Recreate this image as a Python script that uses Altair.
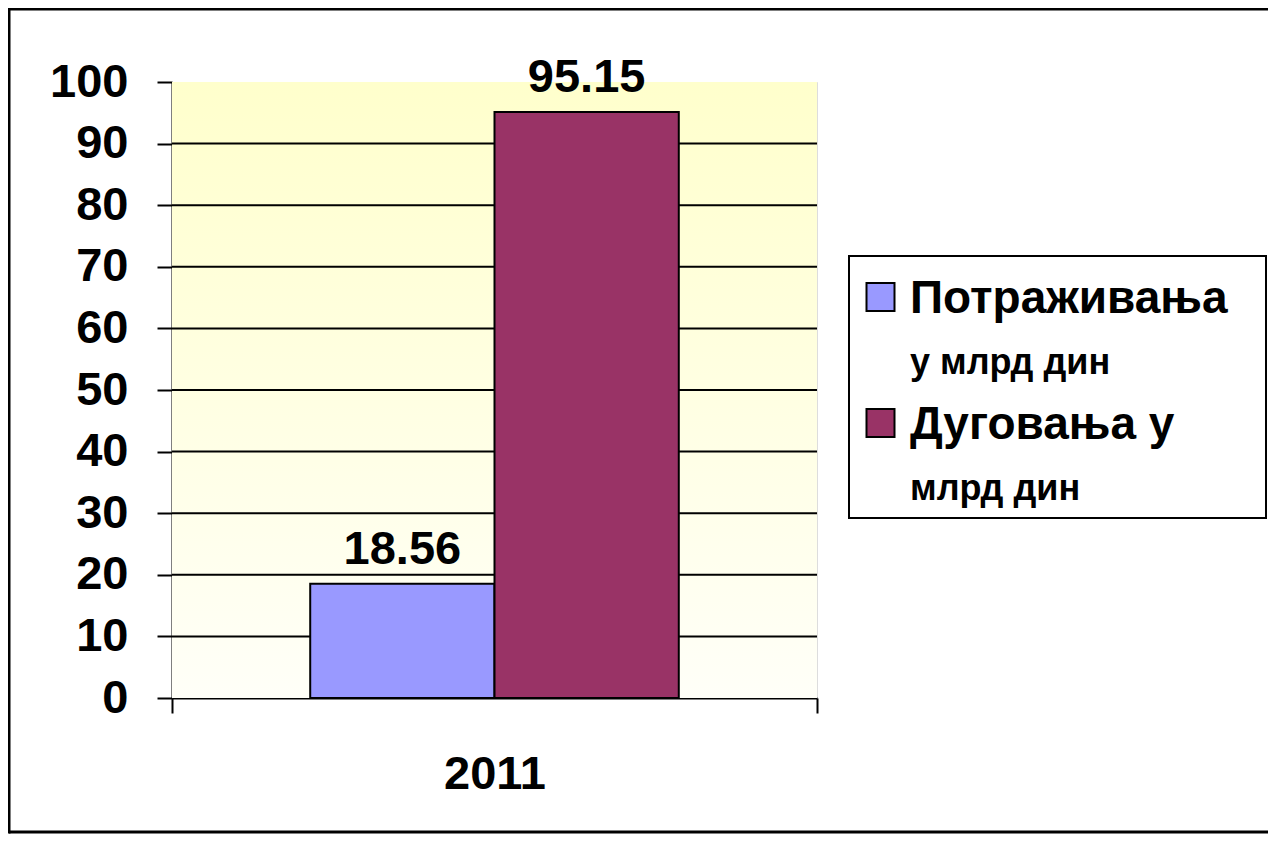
import altair as alt
import pandas as pd

# ---- data ----
years = ["2011"]
series = ["Потраживања у млрд дин", "Дуговања у млрд дин"]
values = [18.56, 95.15]
colors = ["#9999FF", "#993366"]
legend_line1 = ["Потраживања", "Дуговања у"]
legend_line2 = ["у млрд дин", "млрд дин"]
y_ticks = [0, 10, 20, 30, 40, 50, 60, 70, 80, 90, 100]
grid_values = [10, 20, 30, 40, 50, 60, 70, 80, 90]

FONT = "Liberation Sans"
W, H = 645, 616

bars_df = pd.DataFrame({"year": years * len(series), "series": series, "value": values})
grid_df = pd.DataFrame({"value": grid_values})
legend_df = pd.DataFrame({"series": series, "line1": legend_line1, "line2": legend_line2})

x_enc = alt.X(
    "year:N",
    title=None,
    scale=alt.Scale(paddingInner=0, paddingOuter=0),
    axis=alt.Axis(
        labelAngle=0, labelFont=FONT, labelFontSize=47, labelFontWeight="bold",
        labelColor="black", labelPadding=38, tickBand="extent", tickSize=15,
        tickWidth=2, tickColor="black", domainColor="black", domainWidth=2, grid=False,
    ),
)
xoff_enc = alt.XOffset(
    "series:N", sort=series,
    scale=alt.Scale(domain=series, paddingInner=0, paddingOuter=0.75),
)
y_enc = alt.Y(
    "value:Q",
    title=None,
    scale=alt.Scale(domain=[0, 100], nice=False, zero=True),
    axis=alt.Axis(
        values=y_ticks, labelFont=FONT, labelFontSize=47, labelFontWeight="bold",
        labelColor="black", labelPadding=29, tickSize=15, tickWidth=2,
        tickColor="black", domainColor="black", domainWidth=2, grid=False,
    ),
)
color_enc = alt.Color("series:N", scale=alt.Scale(domain=series, range=colors), legend=None)

gradient = alt.Gradient(
    gradient="linear",
    stops=[alt.GradientStop(color="#FFFFCC", offset=0), alt.GradientStop(color="#FFFFF8", offset=1)],
    x1=0, x2=0, y1=0, y2=1,
)

# outer frame: left, top and bottom edges (the right edge lies outside the picture)
one = alt.Data(values=[{}])
frame_top = alt.Chart(one).mark_rule(color="black", strokeWidth=3).encode(
    x=alt.value(-163), x2=alt.value(1096), y=alt.value(-73)
)
frame_bottom = alt.Chart(one).mark_rule(color="black", strokeWidth=3).encode(
    x=alt.value(-163), x2=alt.value(1096), y=alt.value(750)
)
frame_left = alt.Chart(one).mark_rule(color="black", strokeWidth=3).encode(
    x=alt.value(-163), y=alt.value(-74.5), y2=alt.value(751.5)
)

background = alt.Chart(one).mark_rect(fill=gradient).encode(
    x=alt.value(0), x2=alt.value(W), y=alt.value(0), y2=alt.value(H)
)

grid = alt.Chart(grid_df).mark_rule(color="black", strokeWidth=2).encode(y=y_enc)

bars = alt.Chart(bars_df).mark_bar(stroke="black", strokeWidth=2).encode(
    x=x_enc, xOffset=xoff_enc, y=y_enc, color=color_enc
)

labels = alt.Chart(bars_df).mark_text(
    font=FONT, fontSize=47, fontWeight="bold", color="black", baseline="alphabetic", dy=-20
).encode(x=x_enc, xOffset=xoff_enc, y=y_enc, text=alt.Text("value:Q", format=".2f"))

main = alt.layer(frame_top, frame_bottom, frame_left, background, grid, bars, labels)

ly = alt.Y("series:N", sort=series, scale=alt.Scale(domain=series, range=[215, 341], padding=0), axis=None)

legend_box = alt.Chart(one).mark_rect(
    fill="white", stroke="black", strokeWidth=2
).encode(x=alt.value(677), x2=alt.value(1094), y=alt.value(174), y2=alt.value(436))

legend_sq = alt.Chart(legend_df).mark_square(size=784, stroke="black", strokeWidth=2, opacity=1).encode(
    x=alt.value(708.5), y=ly, color=color_enc
)
legend_t1 = alt.Chart(legend_df).mark_text(
    font=FONT, fontSize=46, fontWeight="bold", color="black", align="left", baseline="alphabetic", dy=16
).encode(x=alt.value(738), y=ly, text="line1:N")
legend_t2 = alt.Chart(legend_df).mark_text(
    font=FONT, fontSize=36, fontWeight="bold", color="black", align="left", baseline="alphabetic", dy=77
).encode(x=alt.value(738), y=ly, text="line2:N")

legend = alt.layer(legend_box, legend_sq, legend_t1, legend_t2)

chart = (
    alt.layer(main, legend)
    .resolve_scale(y="independent")
    .properties(
        width=W, height=H,
        autosize=alt.AutoSizeParams(type="none"),
        padding={"left": 164, "top": 74, "right": 451, "bottom": 136},
    )
    .configure_view(strokeOpacity=0)
    .configure(background="white")
)

chart.save("out.html", embed_options={"renderer": "svg", "actions": False})
